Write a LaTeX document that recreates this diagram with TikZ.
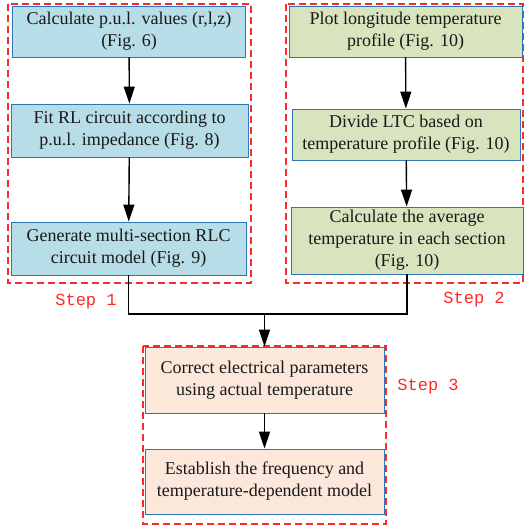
\documentclass[tikz,border=0pt]{standalone}
\usepackage{fontspec}
\setmainfont{Liberation Serif}
\newfontfamily\stepfont{Liberation Mono}
\usetikzlibrary{arrows.meta}
\definecolor{bluefill}{RGB}{183,221,232}
\definecolor{greenfill}{RGB}{215,228,189}
\definecolor{peachfill}{RGB}{252,232,218}
\definecolor{boxline}{RGB}{46,117,182}
\definecolor{stepred}{RGB}{255,40,40}
\tikzset{
  procbox/.style={draw=boxline, line width=0.9pt, inner sep=2pt, align=center,
    font=\fontsize{18}{22}\selectfont, text=black!90},
  groupbox/.style={draw=stepred, line width=1.1pt, dash pattern=on 7pt off 4pt},
  steplabel/.style={text=stepred, font=\stepfont\fontsize{17}{20}\selectfont},
  flow/.style={line width=1.4pt, -{Triangle[length=17pt,width=11pt]}},
  link/.style={line width=1.4pt}
}
\begin{document}
\begin{tikzpicture}[x=1pt,y=-1pt]
\useasboundingbox (0,0) rectangle (525,527);
% group boxes
\draw[groupbox] (8,4) rectangle (251,283);
\draw[groupbox] (286,4) rectangle (523,283);
\draw[groupbox] (143,346) rectangle (386,524);
% step 1
\node[procbox, fill=bluefill, minimum width=233pt, minimum height=51pt] (a1) at (129,31.5)
  {Calculate p.u.l. values (r,l,z)\\(Fig. 6)};
\node[procbox, fill=bluefill, minimum width=237pt, minimum height=53pt] (a2) at (129.5,130.5)
  {Fit RL circuit according to\\p.u.l. impedance (Fig. 8)};
\node[procbox, fill=bluefill, minimum width=235pt, minimum height=53pt] (a3) at (128.5,248.5)
  {Generate multi-section RLC\\circuit model (Fig. 9)};
% step 2
\node[procbox, fill=greenfill, minimum width=233pt, minimum height=51pt] (b1) at (405.5,31.5)
  {Plot longitude temperature\\profile (Fig. 10)};
\node[procbox, fill=greenfill, minimum width=228pt, minimum height=51pt] (b2) at (406,134.5)
  {Divide LTC based on\\temperature profile (Fig. 10)};
\node[procbox, fill=greenfill, minimum width=232pt, minimum height=67pt] (b3) at (407,240.5)
  {Calculate the average\\temperature in each section\\(Fig. 10)};
% step 3
\node[procbox, fill=peachfill, minimum width=239pt, minimum height=66pt] (c1) at (264.5,380)
  {Correct electrical parameters\\using actual temperature};
\node[procbox, fill=peachfill, minimum width=239pt, minimum height=65pt] (c2) at (264.5,481.5)
  {Establish the frequency and\\temperature-dependent model};
% labels
\node[steplabel] (s1) at (86,302) {Step 1};
\node[steplabel] (s2) at (474,300) {Step 2};
\node[steplabel] (s3) at (428,387) {Step 3};
% connectors
\draw[flow] (a1) -- (a2);
\draw[flow] (a2) -- (a3);
\draw[flow] (b1) -- (b2);
\draw[flow] (b2) -- (b3);
\coordinate (j) at (264.5,314);
\draw[link] (a3.south) |- (j);
\draw[link] (b3.south) |- (j);
\draw[flow] (j) -- (c1.north);
\draw[flow] (c1) -- (c2);
\end{tikzpicture}
\end{document}
